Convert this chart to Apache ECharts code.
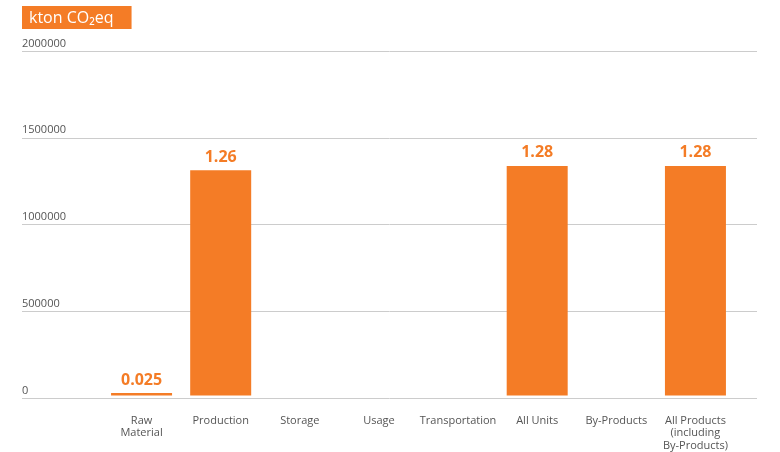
<!DOCTYPE html>
<html>
<head>
<meta charset="utf-8">
<script src="https://cdn.jsdelivr.net/npm/echarts@6/dist/echarts.min.js"></script>
<style>html,body{margin:0;padding:0;background:#fff}#c{width:780px;height:452px}</style>
</head>
<body>
<div id="c"></div>
<script>
var categories = ['Raw\nMaterial', 'Production', 'Storage', 'Usage', 'Transportation', 'All Units', 'By-Products', 'All Products\n(including\nBy-Products)'];
var values = [14000, 1308000, null, null, null, 1333000, null, 1333000];
var valueLabels = ['0.025', '1.26', '', '', '', '1.28', '', '1.28'];
var yTicks = [0, 500000, 1000000, 1500000, 2000000];
var unitTitle = 'kton CO\u2082eq';

var orange = '#f47c26';
var font = '"Open Sans", sans-serif';
var chart = echarts.init(document.getElementById('c'));
chart.setOption({
  animation: false,
  title: {
    text: unitTitle,
    left: 22, top: 6,
    backgroundColor: orange,
    padding: [4, 18, 3, 7],
    textStyle: { color: '#fff', fontSize: 16, fontWeight: 500, fontFamily: font, lineHeight: 16 }
  },
  grid: [
    { left: 22, right: 23, top: 51, bottom: 54 },
    { left: 102, right: 45, top: 51, bottom: 54 }
  ],
  xAxis: [
    { gridIndex: 0, type: 'value', show: false },
    {
      gridIndex: 1, type: 'category', data: categories,
      axisLine: { show: false }, axisTick: { show: false },
      axisLabel: { color: '#555', fontSize: 11, fontFamily: font, margin: 19, lineHeight: 12.5, interval: 0 }
    }
  ],
  yAxis: [
    {
      gridIndex: 0, type: 'value', min: yTicks[0], max: yTicks[yTicks.length - 1], interval: yTicks[1] - yTicks[0],
      axisLine: { show: false }, axisTick: { show: false },
      splitLine: { lineStyle: { color: '#cccccc', width: 1 } },
      axisLabel: {
        inside: true, margin: 0, verticalAlign: 'bottom', padding: [0, 0, 2, 0],
        color: '#555', fontSize: 11, fontFamily: font,
        formatter: function (v) { return String(v); }
      }
    },
    { gridIndex: 1, type: 'value', min: yTicks[0], max: yTicks[yTicks.length - 1], show: false, splitLine: { show: false } }
  ],
  series: [{
    type: 'bar',
    xAxisIndex: 1, yAxisIndex: 1,
    data: values,
    barWidth: 61,
    itemStyle: { color: orange },
    label: {
      show: true, position: 'top', distance: 5,
      color: orange, fontSize: 16, fontWeight: 'bold', fontFamily: font,
      formatter: function (p) { return valueLabels[p.dataIndex]; }
    }
  }]
});
</script>
</body>
</html>
